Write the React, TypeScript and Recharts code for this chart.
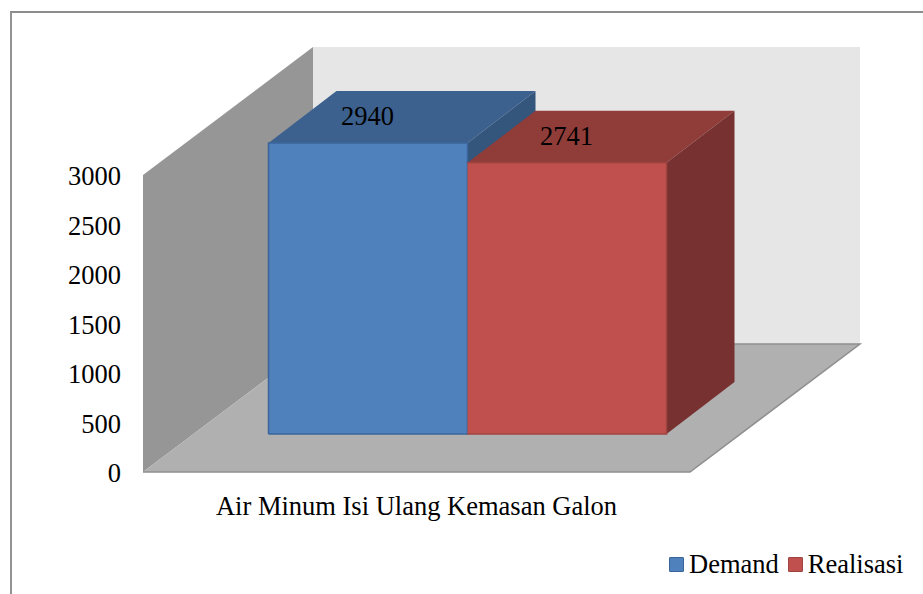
import { Bar, BarChart, LabelList, Legend, XAxis, YAxis, usePlotArea } from 'recharts';

const categories = ['Air Minum Isi Ulang Kemasan Galon'];
const demandValues = [2940];
const realisasiValues = [2741];
const valueTicks = [0, 500, 1000, 1500, 2000, 2500, 3000];

const chartData = categories.map((name, i) => ({
  name,
  Demand: demandValues[i],
  Realisasi: realisasiValues[i],
}));

const FONT = '"Liberation Serif", "Times New Roman", serif';
const FONT_SIZE = 26.5;

// fake 3D: the room depth, plus where the bars stand and how deep they are
const ROOM_DX = 170;
const ROOM_DY = 128;
const BAR_SHIFT_X = 51;
const BAR_SHIFT_Y = 38;
const BAR_DX = 68;
const BAR_DY = 52;

const shades: Record<string, { front: string; top: string; side: string; edge: string }> = {
  Demand: { front: '#4f81bd', top: '#3c618e', side: '#34557c', edge: '#3b659a' },
  Realisasi: { front: '#c0504d', top: '#903c39', side: '#773130', edge: '#a04441' },
};

const pts = (list: number[][]) => list.map((p) => p.join(',')).join(' ');

// back wall, side wall and floor, sized from the plot area
function Room() {
  const area = usePlotArea();
  if (!area) return null;
  const { x, y, width, height } = area;
  const bottom = y + height;
  const right = x + width;
  return (
    <g>
      <polygon
        fill="#e6e6e6"
        points={pts([
          [x + ROOM_DX, y - ROOM_DY],
          [right + ROOM_DX, y - ROOM_DY],
          [right + ROOM_DX, bottom - ROOM_DY],
          [x + ROOM_DX, bottom - ROOM_DY],
        ])}
      />
      <polygon
        fill="#969696"
        points={pts([
          [x, y],
          [x + ROOM_DX, y - ROOM_DY],
          [x + ROOM_DX, bottom - ROOM_DY],
          [x, bottom],
        ])}
      />
      <polygon
        fill="#b0b0b0"
        points={pts([
          [x, bottom],
          [right, bottom],
          [right + ROOM_DX, bottom - ROOM_DY],
          [x + ROOM_DX, bottom - ROOM_DY],
        ])}
      />
      <polyline
        fill="none"
        stroke="#8e8e8e"
        strokeWidth={1.5}
        points={pts([
          [x, bottom],
          [right, bottom],
          [right + ROOM_DX, bottom - ROOM_DY],
          [x + ROOM_DX, bottom - ROOM_DY],
        ])}
      />
    </g>
  );
}

// one box: front face from the bar's own rectangle, top and side pushed back
function Box(props: any) {
  const { x, y, width, height, dataKey } = props;
  const c = shades[dataKey];
  const left = x + BAR_SHIFT_X;
  const right = left + width;
  const top = y - BAR_SHIFT_Y;
  const bottom = top + height;
  // the second box leans on the first, so its left edge stays open
  const outline =
    dataKey === 'Demand'
      ? [[left, bottom], [left, top], [right, top], [right, bottom], [left, bottom]]
      : [[left, top], [right, top], [right, bottom], [left, bottom]];
  return (
    <g>
      <polygon
        fill={c.top}
        points={pts([
          [left, top],
          [right, top],
          [right + BAR_DX, top - BAR_DY],
          [left + BAR_DX, top - BAR_DY],
        ])}
      />
      <polygon
        fill={c.side}
        points={pts([
          [right, top],
          [right + BAR_DX, top - BAR_DY],
          [right + BAR_DX, bottom - BAR_DY],
          [right, bottom],
        ])}
      />
      <rect x={left} y={top} width={width} height={height} fill={c.front} />
      <polyline fill="none" stroke={c.edge} strokeWidth={1.5} points={pts(outline)} />
    </g>
  );
}

// value sits in the middle of the box's top face
function TopLabel(props: any) {
  const { x, y, width, value } = props;
  return (
    <text
      x={x + width / 2 + BAR_SHIFT_X - 0.5}
      y={y - BAR_SHIFT_Y - BAR_DY / 2 - 1}
      textAnchor="middle"
      dominantBaseline="central"
      fontFamily={FONT}
      fontSize={FONT_SIZE}
      fill="#000"
    >
      {value}
    </text>
  );
}

function LegendRow({ payload }: any) {
  return (
    <div style={{ display: 'flex', alignItems: 'center', fontFamily: FONT, fontSize: FONT_SIZE, color: '#000', lineHeight: '30px' }}>
      {(payload || []).map((entry: any) => (
        <div key={entry.value} style={{ display: 'flex', alignItems: 'center', marginRight: 9 }}>
          <span
            style={{
              display: 'inline-block',
              boxSizing: 'border-box',
              width: 15,
              height: 15,
              marginRight: 5,
              background: shades[entry.value].front,
              border: `1.5px solid ${shades[entry.value].edge}`,
              borderRadius: 1,
            }}
          />
          {entry.value}
        </div>
      ))}
    </div>
  );
}

export default function App() {
  return (
    <div
      style={{
        position: 'absolute',
        left: 0,
        top: 0,
        width: 923,
        height: 594,
        overflow: 'hidden',
        background: '#fff',
      }}
    >
      {/* chart frame, runs off the right and bottom of the page */}
      <div
        style={{
          position: 'absolute',
          left: 10,
          top: 11,
          width: 950,
          height: 650,
          borderLeft: '2px solid #929292',
          borderTop: '2px solid #8c8c8c',
        }}
      />
      <BarChart
        width={923}
        height={594}
        data={chartData}
        margin={{ top: 175, right: 233, bottom: 32, left: 0 }}
        barCategoryGap={74.5}
        barGap={0}
        style={{ position: 'absolute', left: 0, top: 0 }}
      >
        <Room />
        <XAxis
          dataKey="name"
          axisLine={false}
          tickLine={false}
          height={60}
          tickMargin={18}
          tick={{ fontFamily: FONT, fontSize: FONT_SIZE, fill: '#000' }}
        />
        <YAxis
          domain={[0, 3000]}
          ticks={valueTicks}
          axisLine={false}
          tickLine={false}
          width={143}
          tickMargin={16}
          interval={0}
          tick={{ fontFamily: FONT, fontSize: FONT_SIZE, fill: '#000', dy: 1 }}
        />
        <Legend
          content={<LegendRow />}
          wrapperStyle={{ left: 669, top: 549, width: 254 }}
        />
        <Bar dataKey="Demand" fill="#4f81bd" shape={<Box dataKey="Demand" />} isAnimationActive={false}>
          <LabelList dataKey="Demand" content={<TopLabel />} />
        </Bar>
        <Bar dataKey="Realisasi" fill="#c0504d" shape={<Box dataKey="Realisasi" />} isAnimationActive={false}>
          <LabelList dataKey="Realisasi" content={<TopLabel />} />
        </Bar>
      </BarChart>
    </div>
  );
}
